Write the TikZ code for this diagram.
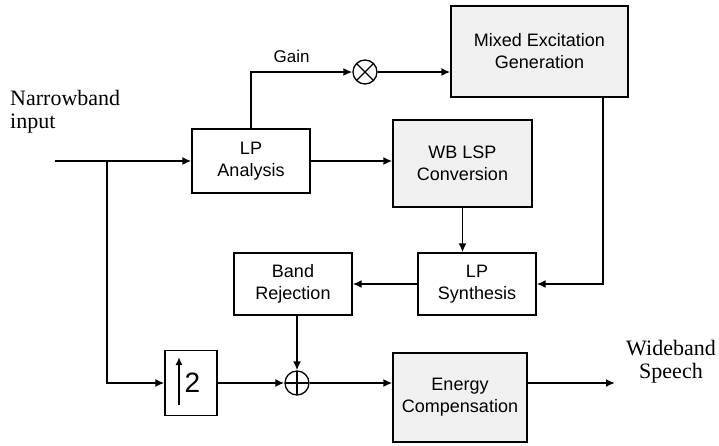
\documentclass[tikz,border=0pt]{standalone}
\usepackage{fontspec}
\setmainfont{Liberation Serif}
\setsansfont{Liberation Sans}
\usetikzlibrary{arrows.meta, positioning}

\begin{document}
\begin{tikzpicture}[
  x=1pt, y=-1pt,
  box/.style={rectangle, draw=black, line width=1.3pt, align=center,
              inner sep=0pt, font=\sffamily\fontsize{18}{22}\selectfont},
  shaded/.style={box, fill=gray!12},
  junc/.style={circle, draw=black, line width=1.3pt, minimum size=24pt, inner sep=0pt},
  mult/.style={junc, path picture={
      \draw[line width=1.3pt] (path picture bounding box.north west) -- (path picture bounding box.south east)
                              (path picture bounding box.south west) -- (path picture bounding box.north east);}},
  plus/.style={junc, path picture={
      \draw[line width=1.3pt] (path picture bounding box.north) -- (path picture bounding box.south)
                              (path picture bounding box.west) -- (path picture bounding box.east);}},
  io/.style={inner sep=0pt, font=\fontsize{22}{23}\selectfont},
  arrow/.style={-{Latex[length=9pt,width=8pt]}, line width=1.8pt}
]
\useasboundingbox (0,0) rectangle (719,445);

% blocks
\node[box, minimum width=118pt, minimum height=64pt]    (lpa)   at (251,161)   {LP\\Analysis};
\node[shaded, minimum width=139pt, minimum height=87pt] (wblsp) at (462.5,163.5) {WB LSP\\Conversion};
\node[shaded, minimum width=177pt, minimum height=91pt] (mix)   at (539.5,51.5) {Mixed Excitation\\Generation};
\node[box, minimum width=118pt, minimum height=62pt]    (lps)   at (477,284)   {LP\\Synthesis};
\node[box, minimum width=118pt, minimum height=62pt]    (brj)   at (293,284)   {Band\\Rejection};
\node[box, minimum width=52pt, minimum height=65pt, font=\sffamily\fontsize{28}{30}\selectfont]
                                                        (up)    at (191,383)   {\hspace{3pt}2};
\node[shaded, minimum width=134pt, minimum height=89pt] (enc)   at (460,397.5) {Energy\\Compensation};
\node[mult] (mul) at (365,72) {};
\node[plus] (sum) at (297,383) {};

% input / output text
\node[io, anchor=west, align=left] (nb) at (10,112) {Narrowband\\input};
\node[io, align=center] (wb) at (671,362) {Wideband\\Speech};
\coordinate (in)  at (55,161);
\coordinate (br)  at (107,161);
\coordinate (out) at (615,383);

% connections
\draw[arrow] (in) -- (lpa);
\draw[arrow] (br) |- (up);
\draw[arrow] (lpa.north) |- (mul.west) node[pos=0.7, above=5pt, font=\sffamily\fontsize{17}{20}\selectfont] {Gain};
\draw[arrow] (mul) -- (mul -| mix.west);
\draw[arrow] (lpa.east) -- (lpa.east -| wblsp.west);
\draw[arrow] (wblsp.south) -- (wblsp.south |- lps.north);
\draw[arrow] ([xshift=63.5pt]mix.south) |- (lps.east);
\draw[arrow] (lps) -- (brj);
\draw[arrow] (brj.south -| sum) -- (sum.north);
\draw[arrow] (up) -- (sum);
\draw[arrow] (sum) -- (sum -| enc.west);
\draw[arrow] (sum -| enc.east) -- (out);
\draw[-{Latex[length=8pt,width=7pt]}, line width=1.8pt]
  ([xshift=-12pt,yshift=-22pt]up.center) -- ([xshift=-12pt,yshift=26pt]up.center);
\end{tikzpicture}
\end{document}
